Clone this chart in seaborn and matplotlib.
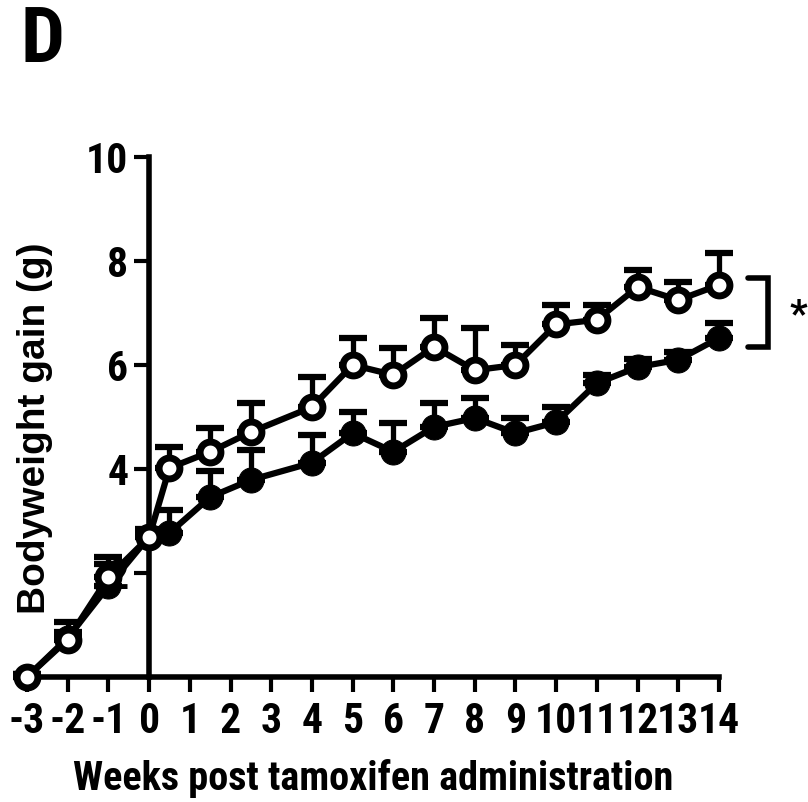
import matplotlib
matplotlib.use("Agg")
import matplotlib.pyplot as plt
from matplotlib import font_manager
import numpy as np
import pandas as pd
import seaborn as sns

# data
weeks = [-3, -2, -1, 0, 0.5, 1.5, 2.5, 4, 5, 6, 7, 8, 9, 10, 11, 12, 13, 14]
open_mean = [0.0, 0.72, 1.92, 2.69, 4.02, 4.33, 4.71, 5.19, 6.0, 5.81, 6.35, 5.9, 6.0, 6.78, 6.87, 7.5, 7.25, 7.54]
open_sem = [0.05, 0.15, 0.25, 0.1, 0.4, 0.46, 0.56, 0.58, 0.52, 0.52, 0.55, 0.81, 0.38, 0.37, 0.28, 0.33, 0.35, 0.61]
filled_mean = [0.0, 0.75, 1.75, 2.7, 2.77, 3.46, 3.79, 4.12, 4.69, 4.33, 4.81, 4.98, 4.69, 4.9, 5.65, 5.96, 6.1, 6.52]
filled_sem = [0.05, 0.3, 0.55, 0.15, 0.45, 0.5, 0.58, 0.53, 0.41, 0.55, 0.46, 0.39, 0.3, 0.3, 0.15, 0.15, 0.15, 0.28]

x_ticks = list(range(-3, 15))
y_ticks = [2, 4, 6, 8, 10]

bracket_x = (14.7, 15.2)
bracket_y = (6.35, 7.67)
star_pos = (15.95, 6.95)

df = pd.DataFrame({"week": weeks, "open": open_mean, "filled": filled_mean})

sns.set_style("ticks")

# the original uses a condensed bold face; pick one if the system has it
names = {f.name for f in font_manager.fontManager.ttflist}
narrow = next((n for n in ["Liberation Sans Narrow", "DejaVu Sans Condensed",
                           "Roboto Condensed", "Open Sans Condensed"] if n in names), None)
if narrow:
    h_family = [narrow, "Liberation Sans", "DejaVu Sans"]
    shrink = 1.0
else:
    h_family = ["Liberation Sans", "DejaVu Sans"]
    shrink = 0.85
plt.rcParams["font.family"] = h_family
plt.rcParams["font.weight"] = "bold"
plt.rcParams["text.color"] = "black"
plt.rcParams["axes.labelcolor"] = "black"

fig = plt.figure(figsize=(8.08, 8.02), dpi=100)
ax = fig.add_axes([0.0334, 0.1559, 0.8565, 0.6483])

# filled series (underneath)
ax.errorbar(weeks, filled_mean, yerr=[np.zeros(len(weeks)), filled_sem], fmt="none",
            ecolor="black", elinewidth=3.8, capsize=10, capthick=4.5, zorder=3, clip_on=False)
sns.lineplot(data=df, x="week", y="filled", ax=ax, color="black", linewidth=4.5,
             marker="o", markersize=18, markerfacecolor="black", markeredgecolor="black",
             zorder=3.1, clip_on=False)

# open series on top
ax.errorbar(weeks, open_mean, yerr=[np.zeros(len(weeks)), open_sem], fmt="none",
            ecolor="black", elinewidth=3.8, capsize=10, capthick=4.5, zorder=4, clip_on=False)
sns.lineplot(data=df, x="week", y="open", ax=ax, color="black", linewidth=4.5,
             marker="o", markersize=15, markerfacecolor="white", markeredgecolor="black",
             markeredgewidth=5, zorder=4.1, clip_on=False)

ax.set_xlim(-3, 14)
ax.set_ylim(0, 10)
ax.set_xticks(x_ticks)
ax.set_xticklabels([str(t) for t in x_ticks])
ax.set_yticks(y_ticks)
ax.set_yticklabels([str(t) for t in y_ticks])

ax.spines["left"].set_position(("data", 0))
ax.spines["right"].set_visible(False)
ax.spines["top"].set_visible(False)
for s in ("left", "bottom"):
    ax.spines[s].set_linewidth(4)
    ax.spines[s].set_color("black")
ax.tick_params(axis="both", direction="out", length=11, width=3, color="black",
               labelsize=30 * shrink, labelcolor="black")
ax.tick_params(axis="x", pad=6)
ax.tick_params(axis="y", pad=4)

ax.set_xlabel("Weeks post tamoxifen administration", fontsize=29 * shrink,
              fontweight="bold", color="black")
ax.set_ylabel("Bodyweight gain (g)", fontsize=28, fontweight="bold", color="black",
              family=["Liberation Sans", "DejaVu Sans"])
ax.xaxis.set_label_coords(0.5, -0.158)
ax.yaxis.set_label_coords(0.037, 0.479)

# significance bracket
ax.plot([bracket_x[0], bracket_x[1], bracket_x[1], bracket_x[0]],
        [bracket_y[1], bracket_y[1], bracket_y[0], bracket_y[0]],
        color="black", linewidth=4, clip_on=False, solid_joinstyle="miter")
ax.text(star_pos[0], star_pos[1], "*", fontsize=28, ha="center", va="center",
        fontweight="bold", color="black", clip_on=False)

fig.text(0.025, 0.995, "D", fontsize=56 * shrink, fontweight="bold", color="black",
         ha="left", va="top")

fig.savefig("out.png", dpi=100)
